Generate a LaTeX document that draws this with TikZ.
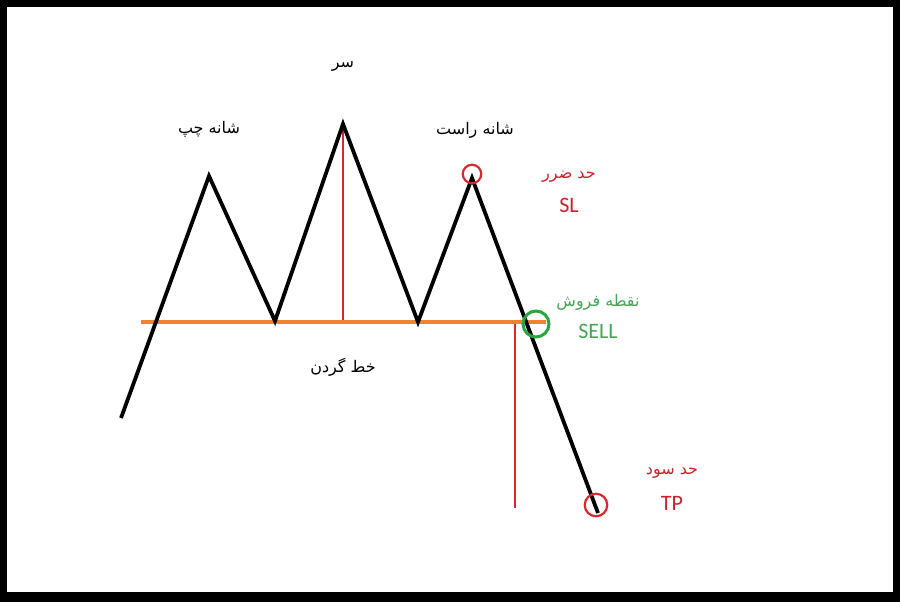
\documentclass[tikz,border=0pt]{standalone}
\usepackage{fontspec}
\setmainfont{Carlito}
\newfontfamily\arabicfont[Script=Arabic]{DejaVu Sans}
\TeXXeTstate=1
\definecolor{lblred}{RGB}{200,35,45}
\definecolor{circred}{RGB}{215,40,45}
\definecolor{lblgreen}{RGB}{70,165,85}
\definecolor{circgreen}{RGB}{40,165,60}
\definecolor{neckorange}{RGB}{240,130,50}
\begin{document}
\begin{tikzpicture}[x=1pt,y=-1pt,
  artext/.style={font=\arabicfont\fontsize{16}{18}\selectfont, inner sep=0pt},
  lattext/.style={font=\fontsize{22}{24}\selectfont, inner sep=0pt},
  priceline/.style={line width=3.8pt, line join=miter, line cap=butt},
  redline/.style={circred, line width=1.3pt},
  mark circle/.style={circle, minimum size=18pt, inner sep=0pt, line width=2.2pt}]
  % frame
  \fill[black] (0,0) rectangle (900,602);
  \fill[white] (7,7) rectangle (893,592);
  \useasboundingbox (0,0) rectangle (900,602);
  % zigzag points
  \coordinate (p0) at (121,418);
  \coordinate (ls) at (209,176);
  \coordinate (t1) at (275,321);
  \coordinate (hd) at (343,124);
  \coordinate (t2) at (418,322);
  \coordinate (rs) at (472,178);
  \coordinate (pe) at (598,513);
  % neckline
  \coordinate (nl) at (141,322);
  \coordinate (nr) at (546,322);
  \coordinate (hb) at (343,322);
  \coordinate (tt) at (515,322);
  \coordinate (tb) at (515,508);
  \draw[redline] (hd) ++(0,4) -- (hb);
  \draw[redline] (tt) -- (tb);
  \draw[neckorange, line width=4.5pt] (nl) -- (nr);
  \draw[priceline] (p0) -- (ls) -- (t1) -- (hd) -- (t2) -- (rs) -- (pe);
  % markers
  \node[mark circle, draw=circred, minimum size=18.5pt] (slc) at (472,174) {};
  \node[mark circle, draw=circgreen, minimum size=26pt, line width=3pt] (sellc) at (536,324) {};
  \node[mark circle, draw=circred, minimum size=22.5pt] (tpc) at (596,505) {};
  % labels
  \node[artext] (head) at (343,67) {\beginR سر\endR};
  \node[artext] (lsh) at (209,129) {\beginR شانه چپ\endR};
  \node[artext] (rsh) at (475,130) {\beginR شانه راست\endR};
  \node[artext] (neck) at (343,367) {\beginR خط گردن\endR};
  \node[artext, text=lblred] (sl1) at (569,177) {\beginR حد ضرر\endR};
  \node[lattext, text=lblred] (sl2) at (569,205) {SL};
  \node[artext, text=lblgreen] (sell1) at (598,302) {\beginR نقطه فروش\endR};
  \node[lattext, text=lblgreen] (sell2) at (598,331) {SELL};
  \node[artext, text=lblred] (tp1) at (672,473) {\beginR حد سود\endR};
  \node[lattext, text=lblred] (tp2) at (672,503) {TP};
\end{tikzpicture}
\end{document}
